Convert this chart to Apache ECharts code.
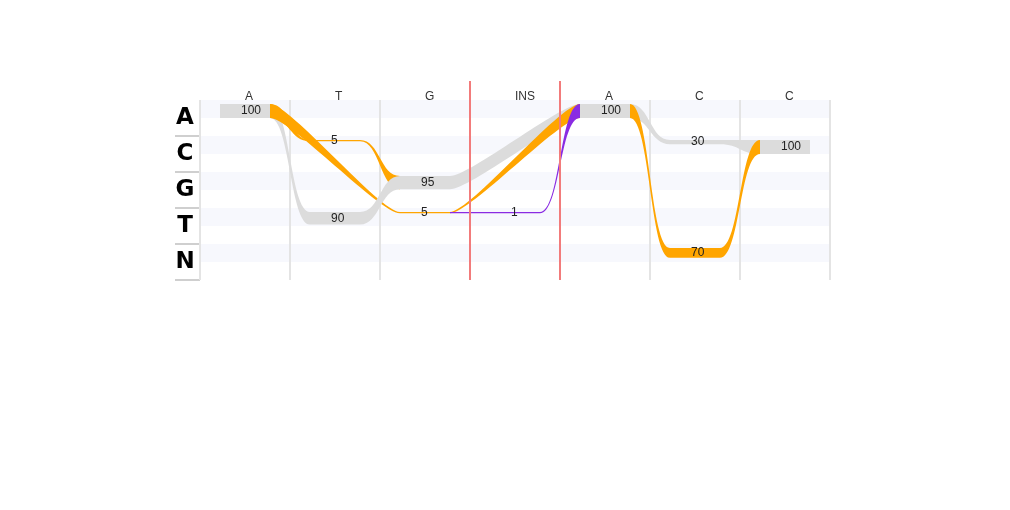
<!DOCTYPE html>
<html>
<head>
<meta charset="utf-8">
<script src="https://cdn.jsdelivr.net/npm/echarts@6/dist/echarts.min.js"></script>
<style>
html,body{margin:0;padding:0;background:#fff;}
#chart{width:1010px;height:510px;}
</style>
</head>
<body>
<div id="chart"></div>
<script>
// ---- data ----
const columns = ['A', 'T', 'G', 'INS', 'A', 'C', 'C'];
const bases = ['A', 'C', 'G', 'T', 'N'];

const nodeColumn = [0, 1, 1, 2, 2, 3, 4, 5, 5, 6];
const nodeBase   = ['A', 'C', 'T', 'G', 'T', 'T', 'A', 'C', 'N', 'C'];
const nodeCount  = [100, 5, 90, 95, 5, 1, 100, 30, 70, 100];
const nodeKind   = ['match', 'mismatch', 'match', 'match', 'mismatch', 'insertion', 'match', 'match', 'mismatch', 'match'];

const linkSource = [0, 0, 0, 1, 2, 3, 4, 4, 5, 6, 6, 7, 8];
const linkTarget = [2, 1, 4, 3, 3, 6, 6, 5, 6, 7, 8, 9, 9];
const linkKind   = ['match', 'mismatch', 'mismatch', 'mismatch', 'match', 'match', 'mismatch', 'insertion', 'insertion', 'match', 'mismatch', 'match', 'mismatch'];

// ---- style ----
const kindColor = { match: '#dcdcdc', mismatch: '#ffa500', insertion: '#8a2be2' };
const pxPerCount = 0.14;
const minThick = 1.3;
const nodeWidth = 50;
const nodeTopPad = 4;

function nodeThick(v) { return Math.max(v * pxPerCount, minThick); }

const nodeData = nodeColumn.map((c, i) => [c, bases.indexOf(nodeBase[i]), nodeCount[i], i]);
const linkData = linkSource.map((s, i) => {
  const t = linkTarget[i];
  return [nodeColumn[s], bases.indexOf(nodeBase[s]), nodeColumn[t], bases.indexOf(nodeBase[t]), nodeCount[s], nodeCount[t], i];
});
const rowData = bases.map((b, i) => [0, i]);
const insData = columns.map((c, i) => [i, 0, c]).filter(d => d[2] === 'INS').map(d => [d[0], d[1]]);

const chart = echarts.init(document.getElementById('chart'), null, { renderer: 'canvas' });

function rowGeom(api, col, row) {
  const c = api.coord([col, row]);
  const rowH = api.size([0, 1])[1];
  return { cx: c[0], top: c[1] - rowH / 2, rowH: rowH };
}

chart.setOption({
  animation: false,
  backgroundColor: '#fff',
  grid: { left: 200, top: 100, width: 630, height: 180 },
  xAxis: {
    type: 'category',
    position: 'top',
    data: columns,
    boundaryGap: true,
    axisLine: { show: false },
    axisTick: { show: false },
    axisLabel: { align: 'left', margin: -3, fontSize: 12, color: '#333', fontFamily: 'Liberation Sans, Arial, sans-serif', interval: 0 },
    splitLine: { show: true, interval: 0, lineStyle: { color: '#e4e4e4', width: 2 } }
  },
  yAxis: {
    type: 'category',
    data: bases,
    inverse: true,
    boundaryGap: true,
    axisLine: { show: false },
    axisTick: { show: false },
    splitLine: { show: false },
    axisLabel: { align: 'center', margin: 15, fontSize: 23, fontWeight: 'bold', color: '#000', fontFamily: 'DejaVu Sans' }
  },
  series: [
    {
      type: 'custom',
      z: -1,
      silent: true,
      encode: { x: 0, y: 1 },
      data: rowData,
      renderItem: function (params, api) {
        const g = rowGeom(api, 0, api.value(1));
        const cs = params.coordSys;
        return {
          type: 'group',
          children: [
            { type: 'rect', shape: { x: cs.x, y: g.top, width: cs.width, height: g.rowH / 2 }, style: { fill: '#f7f8fd' } },
            { type: 'line', shape: { x1: cs.x - 25, y1: g.top + g.rowH, x2: cs.x, y2: g.top + g.rowH }, style: { stroke: '#cfcfcf', lineWidth: 2 } }
          ]
        };
      }
    },
    {
      type: 'custom',
      z: 2,
      silent: true,
      encode: { x: [0, 2], y: [1, 3] },
      data: linkData,
      renderItem: function (params, api) {
        const s = rowGeom(api, api.value(0), api.value(1));
        const t = rowGeom(api, api.value(2), api.value(3));
        const bw = api.size([1, 0])[0];
        const x0 = s.cx + nodeWidth / 2;
        const x1 = t.cx - nodeWidth / 2;
        const k = (bw - nodeWidth) / 2;
        const xa = x0 + k, xb = x1 - k;
        const sT = s.top + nodeTopPad, sB = sT + nodeThick(api.value(4));
        const tT = t.top + nodeTopPad, tB = tT + nodeThick(api.value(5));
        const d = 'M' + x0 + ',' + sT +
          ' C' + xa + ',' + sT + ' ' + xb + ',' + tT + ' ' + x1 + ',' + tT +
          ' L' + x1 + ',' + tB +
          ' C' + xb + ',' + tB + ' ' + xa + ',' + sB + ' ' + x0 + ',' + sB + ' Z';
        return { type: 'path', shape: { pathData: d }, style: { fill: kindColor[linkKind[api.value(6)]] } };
      }
    },
    {
      type: 'custom',
      z: 3,
      silent: true,
      encode: { x: 0, y: 1 },
      data: nodeData,
      renderItem: function (params, api) {
        const g = rowGeom(api, api.value(0), api.value(1));
        const v = api.value(2);
        const h = nodeThick(v);
        const top = g.top + nodeTopPad;
        return {
          type: 'group',
          children: [
            { type: 'rect', shape: { x: g.cx - nodeWidth / 2, y: top, width: nodeWidth, height: h }, style: { fill: kindColor[nodeKind[api.value(3)]] } },
            { type: 'text', z2: 10, style: { x: g.cx - 4, y: top + h / 2, text: String(v), align: 'left', verticalAlign: 'middle', fontSize: 12, fill: '#222', fontFamily: 'Liberation Sans, Arial, sans-serif' } }
          ]
        };
      }
    },
    {
      type: 'custom',
      z: 4,
      silent: true,
      encode: { x: 0, y: 1 },
      data: insData,
      renderItem: function (params, api) {
        const c = api.coord([api.value(0), 0]);
        const bw = api.size([1, 0])[0];
        const cs = params.coordSys;
        const y1 = cs.y - 19, y2 = cs.y + cs.height;
        const st = { stroke: '#f27b7b', lineWidth: 2 };
        return {
          type: 'group',
          children: [
            { type: 'line', shape: { x1: c[0] - bw / 2, y1: y1, x2: c[0] - bw / 2, y2: y2 }, style: st },
            { type: 'line', shape: { x1: c[0] + bw / 2, y1: y1, x2: c[0] + bw / 2, y2: y2 }, style: st }
          ]
        };
      }
    }
  ]
});
</script>
</body>
</html>
